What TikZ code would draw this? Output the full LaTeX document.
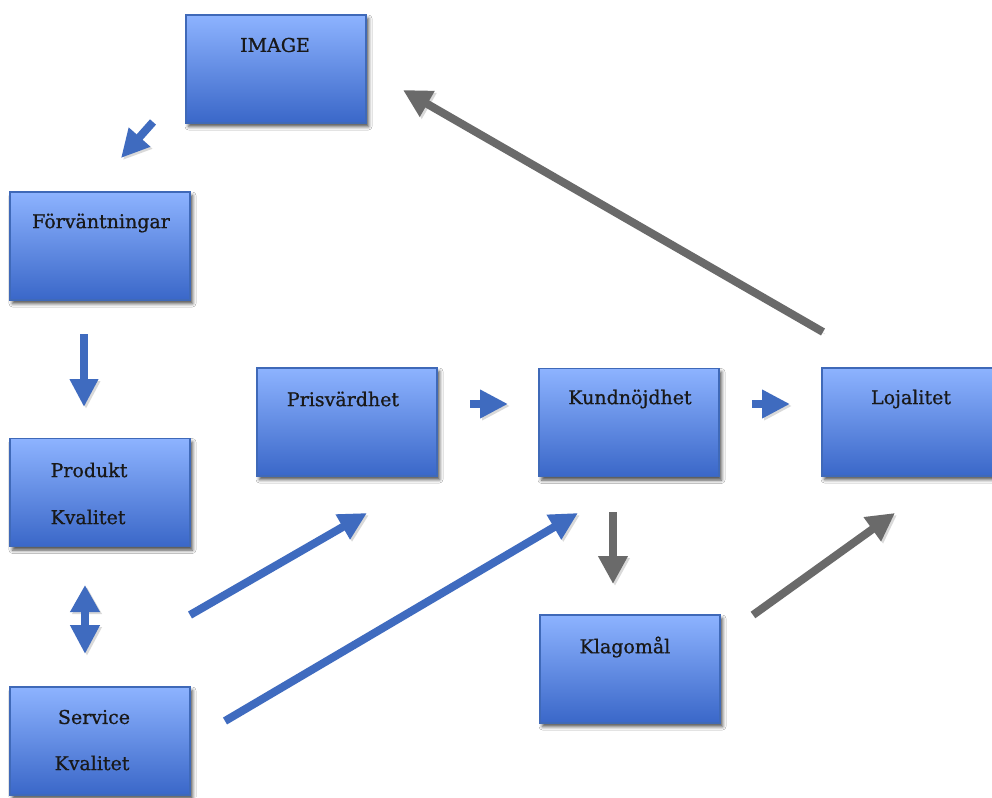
\documentclass[tikz,border=0pt]{standalone}
\usepackage{fontspec}
\setmainfont[FakeBold=1]{DejaVu Serif}
\newfontfamily\lblfont[FakeBold=0.8]{DejaVu Serif}
\usetikzlibrary{arrows.meta,shadows.blur}
\definecolor{boxtop}{HTML}{8DB3FF}
\definecolor{boxbot}{HTML}{3A67C8}
\definecolor{boxedge}{HTML}{3F69B8}
\definecolor{arrblue}{HTML}{3F6BBF}
\definecolor{arrgray}{HTML}{6A6A6A}
\tikzset{
  box/.style={draw=boxedge, line width=1.8pt, top color=boxtop, bottom color=boxbot,
    minimum width=180pt, minimum height=108pt, inner sep=0pt,
    blur shadow={shadow xshift=2.5pt, shadow yshift=-3.5pt, shadow blur radius=3.5pt, shadow opacity=70}},
  lbl/.style={font=\lblfont\fontsize{19}{23}\selectfont, inner sep=0pt, anchor=center, text=black!90},
  shad/.style={preaction={draw=black, opacity=0.15, transform canvas={xshift=2pt,yshift=-2pt}}},
  barrow/.style={draw=arrblue, line width=8pt, line cap=butt, shad, -{Triangle[width=27pt,length=28pt]}},
  bdouble/.style={draw=arrblue, line width=8pt, line cap=butt, shad, {Triangle[width=28pt,length=27pt]}-{Triangle[width=28pt,length=29pt]}},
  garrow/.style={draw=arrgray, line width=8pt, line cap=butt, shad, -{Triangle[width=28pt,length=28pt]}}
}
\begin{document}
\begin{tikzpicture}[x=1pt,y=-1pt]
\clip (0,0) rectangle (992,797);
\fill[white] (0,0) rectangle (992,797);
% boxes
\node[box] (image) at (276,69) {};
\node[box] (forv) at (100,246) {};
\node[box] (prod) at (100,492.5) {};
\node[box] (serv) at (100,741) {};
\node[box] (pris) at (347,422) {};
\node[box] (kund) at (629,422.5) {};
\node[box] (loj) at (912,422) {};
\node[box] (klag) at (630,669) {};
% labels
\node[lbl] (timage) at (275,45) {IMAGE};
\node[lbl] (tforv) at (101,223) {Förväntningar};
\node[lbl] (tprod1) at (89,470) {Produkt};
\node[lbl] (tprod2) at (88,517) {Kvalitet};
\node[lbl] (tserv1) at (94,717) {Service};
\node[lbl] (tserv2) at (92,763) {Kvalitet};
\node[lbl] (tpris) at (343,399) {Prisvärdhet};
\node[lbl] (tkund) at (630,399) {Kundnöjdhet};
\node[lbl] (tloj) at (911,399) {Lojalitet};
\node[lbl] (tklag) at (625,647) {Klagomål};
% arrow end points
\coordinate (a1s) at (153,122); \coordinate (a1e) at (121,158);
\coordinate (a2s) at (84,334);  \coordinate (a2e) at (84,407);
\coordinate (a3s) at (85,585);  \coordinate (a3e) at (85,654);
\coordinate (a4s) at (470,404); \coordinate (a4e) at (508,404);
\coordinate (a5s) at (752,404); \coordinate (a5e) at (790,404);
\coordinate (a6s) at (190,615); \coordinate (a6e) at (367,513);
\coordinate (a7s) at (225,721); \coordinate (a7e) at (578,513);
\coordinate (a8s) at (613,512); \coordinate (a8e) at (613,584);
\coordinate (a9s) at (753,615); \coordinate (a9e) at (895,513);
\coordinate (a10s) at (823,332); \coordinate (a10e) at (403,90);
% arrows
\draw[barrow] (a1s) -- (a1e);
\draw[barrow] (a2s) -- (a2e);
\draw[bdouble] (a3s) -- (a3e);
\draw[barrow] (a4s) -- (a4e);
\draw[barrow] (a5s) -- (a5e);
\draw[barrow] (a6s) -- (a6e);
\draw[barrow] (a7s) -- (a7e);
\draw[garrow] (a8s) -- (a8e);
\draw[garrow] (a9s) -- (a9e);
\draw[garrow] (a10s) -- (a10e);
\end{tikzpicture}
\end{document}
